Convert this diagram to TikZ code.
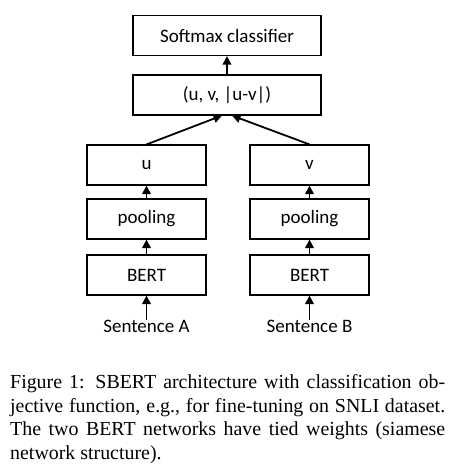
\documentclass[tikz,border=0pt]{standalone}
\usepackage{fontspec}
\setmainfont{Liberation Serif}
\newfontfamily\boxfont{Carlito}
\usepackage{tikz}
\usetikzlibrary{arrows.meta,positioning,calc}
\tikzset{
  layer/.style={draw, line width=1.1pt, minimum width=119pt, minimum height=40pt, inner sep=0pt, font=\boxfont\fontsize{19}{22}\selectfont},
  flow/.style={-{Triangle[length=8.5pt,width=8.5pt]}, line width=1.8pt},
  sent/.style={inner sep=0pt, font=\boxfont\fontsize{19}{22}\selectfont}
}

\begin{document}
\begin{tikzpicture}[x=1pt, y=-1pt]
\useasboundingbox[fill=white] (0,0) rectangle (449,476);
\node[layer, minimum width=188pt] (soft) at (227,35.5) {Softmax classifier};
\node[layer, minimum width=188pt] (pair) at (227,95) {(u, v, |u-v|)};
\node[layer] (u) at (146.5,165) {u}; \node[layer] (v) at (309.5,165) {v};
\node[layer] (poolA) at (146.5,219) {pooling}; \node[layer] (poolB) at (309.5,219) {pooling};
\node[layer] (bertA) at (146.5,275) {BERT}; \node[layer] (bertB) at (309.5,275) {BERT};
\node[sent] (sentA) at (146.5,326) {Sentence A}; \node[sent] (sentB) at (309.5,326) {Sentence B};
\draw[flow] (pair) -- (soft);
\draw[flow] (u.north) -- ($(pair.south)+(-5,0)$);
\draw[flow] (v.north) -- ($(pair.south)+(5,0)$);
\draw[flow] (poolA) -- (u); \draw[flow] (poolB) -- (v);
\draw[flow] (bertA) -- (poolA); \draw[flow] (bertB) -- (poolB);
\draw[flow] (sentA) -- (bertA); \draw[flow] (sentB) -- (bertB);
\node[anchor=north west, inner sep=0pt, text width=435pt, align=justify, font=\fontsize{19.9}{23.8}\selectfont] (caption) at (10,374)
  {Figure 1: SBERT architecture with classification ob-\linebreak jective function, e.g.,\ for fine-tuning on SNLI dataset.\linebreak The two BERT networks have tied weights (siamese\linebreak network structure).};
\end{tikzpicture}
\end{document}
